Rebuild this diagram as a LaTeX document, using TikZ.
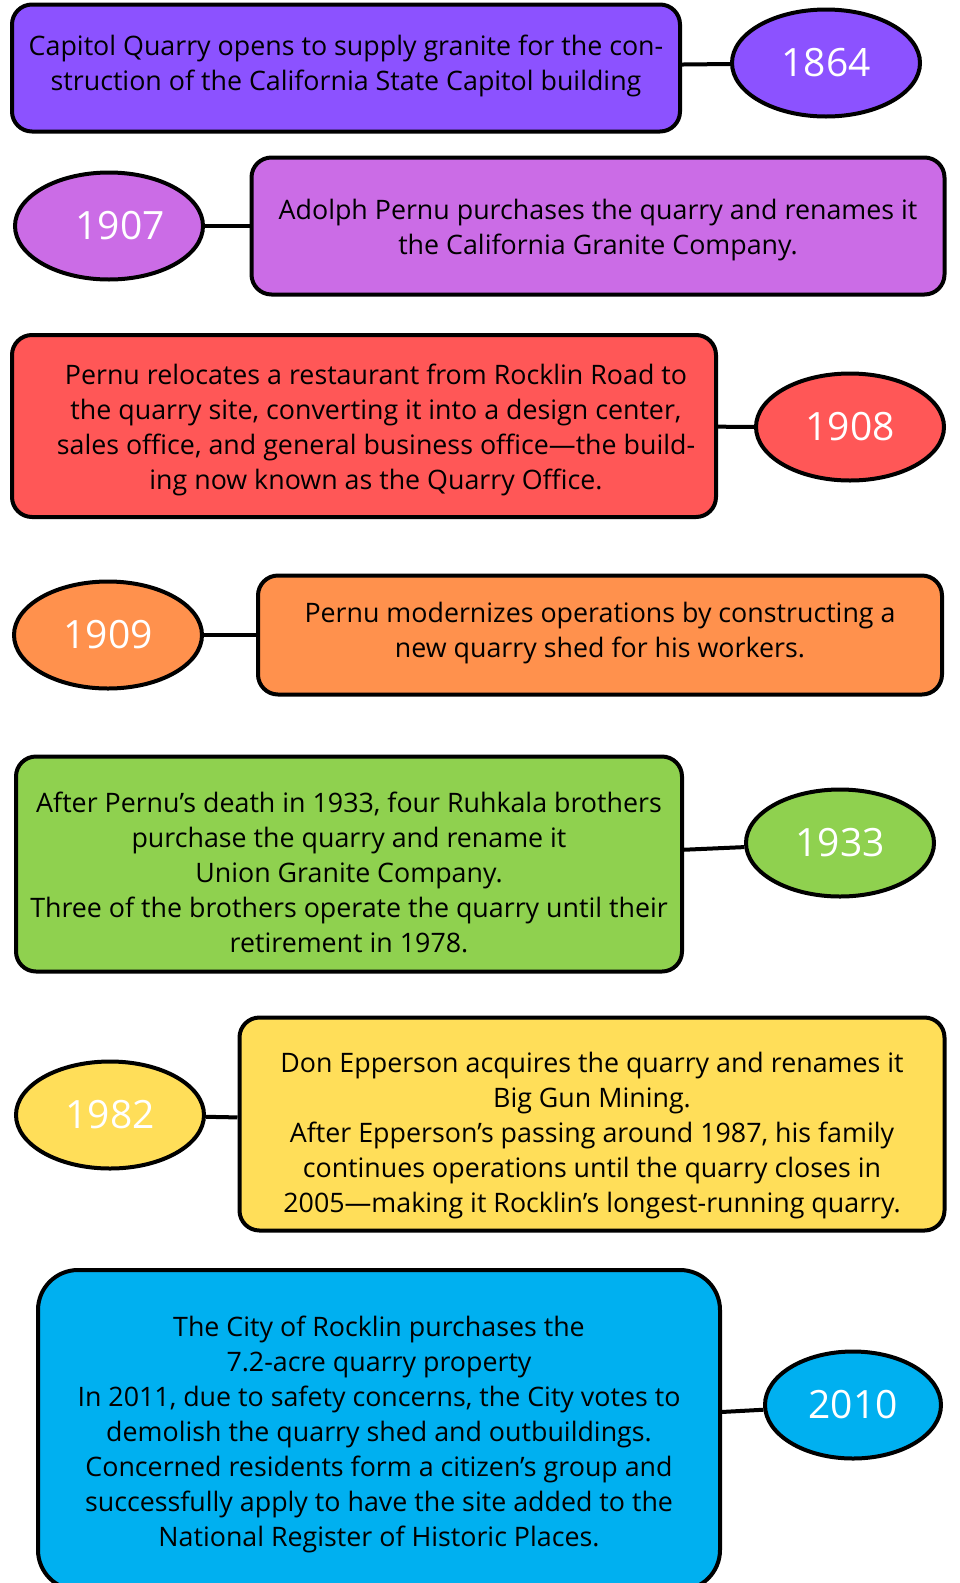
\documentclass[tikz,border=0pt]{standalone}
\usepackage{fontspec}
\setmainfont{Open Sans}
\usetikzlibrary{shapes.geometric}
\definecolor{cPurple}{HTML}{8C52FF}
\definecolor{cOrchid}{HTML}{CB6CE6}
\definecolor{cRed}{HTML}{FF5757}
\definecolor{cOrange}{HTML}{FF914D}
\definecolor{cGreen}{HTML}{8FD14F}
\definecolor{cYellow}{HTML}{FFDE59}
\definecolor{cBlue}{HTML}{00B0F0}
\tikzset{
  event/.style={draw, line width=4pt, rounded corners=20pt, align=center, inner sep=0pt,
    font=\fontsize{26.8}{35}\selectfont},
  year/.style={draw, ellipse, line width=4pt, inner sep=0pt, text=white,
    minimum width=188pt, minimum height=107pt, font=\fontsize{39}{44}\selectfont},
  link/.style={line width=4pt}
}
\begin{document}
\begin{tikzpicture}[x=1pt, y=-1pt]
  \useasboundingbox (0,0) rectangle (959,1583);

  \node[event, fill=cPurple, minimum width=668pt, minimum height=127pt] (e1864) at (346,68)
    {Capitol Quarry opens to supply granite for the con-\\struction of the California State Capitol building\\[-25pt]};
  \node[year, fill=cPurple] (y1864) at (826,63) {1864};
  \draw[link] (e1864) -- (y1864);

  \node[event, fill=cOrchid, minimum width=693pt, minimum height=137pt] (e1907) at (598,226)
    {\rule{0pt}{29pt}Adolph Pernu purchases the quarry and renames it\\the California Granite Company.};
  \node[year, fill=cOrchid] (y1907) at (109,226) {\hspace*{22pt}1907};
  \draw[link] (e1907) -- (y1907);

  \node[event, fill=cRed, minimum width=704pt, minimum height=182pt] (e1908) at (364,426)
    {\rule{0pt}{29pt}\hspace*{24pt}Pernu relocates a restaurant from Rocklin Road to\\
     \hspace*{24pt}the quarry site, converting it into a design center,\\
     \hspace*{24pt}sales office, and general business office---the build-\\
     \hspace*{24pt}ing now known as the Quarry Office.};
  \node[year, fill=cRed] (y1908) at (850,427) {1908};
  \draw[link] (e1908) -- (y1908);

  \node[event, fill=cOrange, minimum width=684pt, minimum height=119pt] (e1909) at (600,635)
    {Pernu modernizes operations by constructing a\\new quarry shed for his workers.\\[-25pt]};
  \node[year, fill=cOrange] (y1909) at (108,635) {1909};
  \draw[link] (e1909) -- (y1909);

  \node[event, fill=cGreen, minimum width=666pt, minimum height=215pt] (e1933) at (349,864)
    {\rule{0pt}{37pt}After Pernu's death in 1933, four Ruhkala brothers\\purchase the quarry and rename it\\Union Granite Company.\\
     Three of the brothers operate the quarry until their\\retirement in 1978.};
  \node[year, fill=cGreen] (y1933) at (840,843) {1933};
  \draw[link] (e1933) -- (y1933);

  \node[event, fill=cYellow, minimum width=705pt, minimum height=213pt] (e1982) at (592,1124)
    {\rule{0pt}{43pt}Don Epperson acquires the quarry and renames it\\Big Gun Mining.\\
     After Epperson's passing around 1987, his family\\continues operations until the quarry closes in\\
     2005---making it Rocklin's longest-running quarry.};
  \node[year, fill=cYellow] (y1982) at (110,1115) {1982};
  \draw[link] (e1982) -- (y1982);

  \node[event, fill=cBlue, rounded corners=40pt, minimum width=682pt, minimum height=320pt] (e2010) at (379,1430)
    {\rule{0pt}{29pt}The City of Rocklin purchases the\\7.2-acre quarry property\\
     In 2011, due to safety concerns, the City votes to\\demolish the quarry shed and outbuildings.\\
     Concerned residents form a citizen's group and\\successfully apply to have the site added to the\\
     National Register of Historic Places.};
  \node[year, fill=cBlue, minimum width=176pt] (y2010) at (853,1405) {2010};
  \draw[link] (e2010) -- (y2010);
\end{tikzpicture}
\end{document}
